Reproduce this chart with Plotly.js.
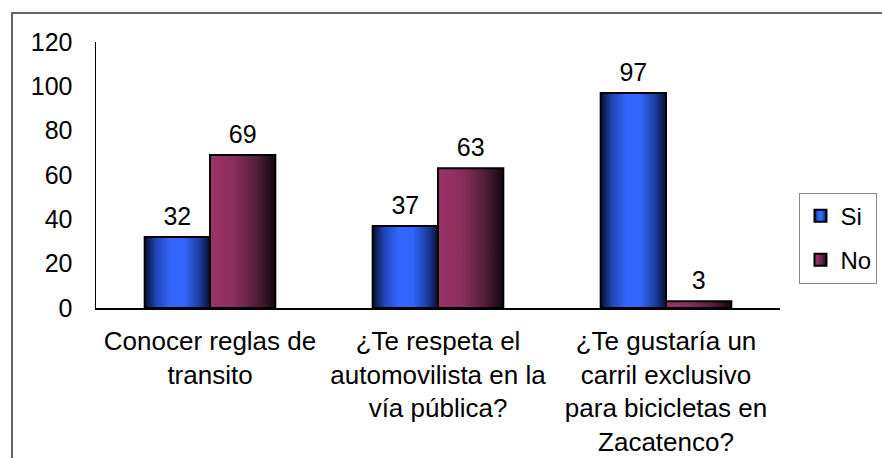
<!DOCTYPE html>
<html>
<head>
<meta charset="utf-8">
<script src="https://cdn.plot.ly/plotly-3.0.1.min.js"></script>
<style>
  html, body { margin: 0; padding: 0; background: #fff; }
  #wrap { position: relative; width: 882px; height: 458px; overflow: hidden; }
  #frame { position: absolute; left: 11px; top: 12px; width: 900px; height: 500px;
           border-left: 2px solid #666; border-top: 2px solid #666; pointer-events: none; z-index: 5; }
  #chart { position: absolute; left: 0; top: 0; width: 882px; height: 458px; }
</style>
</head>
<body>
<div id="wrap">
  <div id="chart"></div>
  <div id="frame"></div>
</div>
<script>
const categories = [
  "Conocer reglas de<br>transito",
  "¿Te respeta el<br>automovilista en la<br>vía pública?",
  "¿Te gustaría un<br>carril exclusivo<br>para bicicletas en<br>Zacatenco?"
];
const siValues = [32, 37, 97];
const noValues = [69, 63, 3];
const seriesNames = ["Si", "No"];
const yTicks = [0, 20, 40, 60, 80, 100, 120];

const FONT = "Liberation Sans, Arial, sans-serif";

const traces = [
  {
    type: "bar", name: seriesNames[0], x: categories, y: siValues,
    text: siValues.map(String), textposition: "outside", cliponaxis: false,
    textfont: {family: FONT, size: 25, color: "#000"},
    marker: {color: "#2f5ee8", line: {color: "#000", width: 2}},
    legendgroup: "a"
  },
  {
    type: "bar", name: seriesNames[1], x: categories, y: noValues,
    text: noValues.map(String), textposition: "outside", cliponaxis: false,
    textfont: {family: FONT, size: 25, color: "#000"},
    marker: {color: "#7a2b52", line: {color: "#000", width: 2}},
    legendgroup: "b"
  }
];

const layout = {
  width: 882, height: 458,
  paper_bgcolor: "#fff", plot_bgcolor: "#fff",
  margin: {l: 96, r: 102, t: 42, b: 150, autoexpand: false},
  barmode: "group", bargap: 0.427, bargroupgap: 0,
  font: {family: FONT, size: 26, color: "#000"},
  showlegend: true,
  legend: {
    x: 1.0285, xanchor: "left", y: 0.263, yanchor: "middle",
    bgcolor: "#fff", bordercolor: "#888", borderwidth: 1,
    font: {family: FONT, size: 24, color: "#000"},
    traceorder: "grouped", tracegroupgap: 10,
    itemwidth: 30
  },
  xaxis: {
    type: "category", showgrid: false, zeroline: false,
    showline: true, linecolor: "#000", linewidth: 1.5,
    ticks: "", tickfont: {family: FONT, size: 26, color: "#000"},
    ticklabelstandoff: 9, fixedrange: true
  },
  yaxis: {
    range: [0, 120], tickvals: yTicks, showgrid: false, zeroline: false,
    showline: true, linecolor: "#000", linewidth: 1.5,
    ticks: "", tickfont: {family: FONT, size: 25, color: "#000"},
    ticklabelstandoff: 17, fixedrange: true
  }
};

Plotly.newPlot("chart", traces, layout, {staticPlot: true, displayModeBar: false}).then(function (gd) {
  const svg = gd.querySelector("svg.main-svg");
  const ns = "http://www.w3.org/2000/svg";
  let defs = svg.querySelector("defs");
  if (!defs) { defs = document.createElementNS(ns, "defs"); svg.insertBefore(defs, svg.firstChild); }
  function grad(id, stops) {
    const g = document.createElementNS(ns, "linearGradient");
    g.setAttribute("id", id);
    g.setAttribute("x1", "0"); g.setAttribute("y1", "0");
    g.setAttribute("x2", "1"); g.setAttribute("y2", "0");
    stops.forEach(function (s) {
      const st = document.createElementNS(ns, "stop");
      st.setAttribute("offset", s[0]);
      st.setAttribute("stop-color", s[1]);
      g.appendChild(st);
    });
    defs.appendChild(g);
  }
  grad("gSi", [[0, "#06102e"], [0.18, "#2046b8"], [0.4, "#3366ff"], [0.62, "#3164f8"], [0.85, "#1a3a99"], [1, "#06102e"]]);
  grad("gNo", [[0, "#993366"], [0.35, "#8c2f5d"], [0.7, "#55203a"], [1, "#120610"]]);
  const ids = ["gSi", "gNo"];
  gd.querySelectorAll(".barlayer .trace.bars").forEach(function (t, i) {
    t.querySelectorAll("g.point path").forEach(function (p) {
      p.style.fill = "url(#" + ids[i] + ")";
    });
    t.querySelectorAll("text.bartext").forEach(function (tx) {
      const tr = tx.getAttribute("transform") || "";
      tx.setAttribute("transform", "translate(0,-4) " + tr);
    });
  });
  gd.querySelectorAll(".legend .traces").forEach(function (t, i) {
    t.querySelectorAll(".legendpoints path").forEach(function (p) {
      p.style.fill = "url(#" + ids[i] + ")";
    });
  });
});
</script>
</body>
</html>
